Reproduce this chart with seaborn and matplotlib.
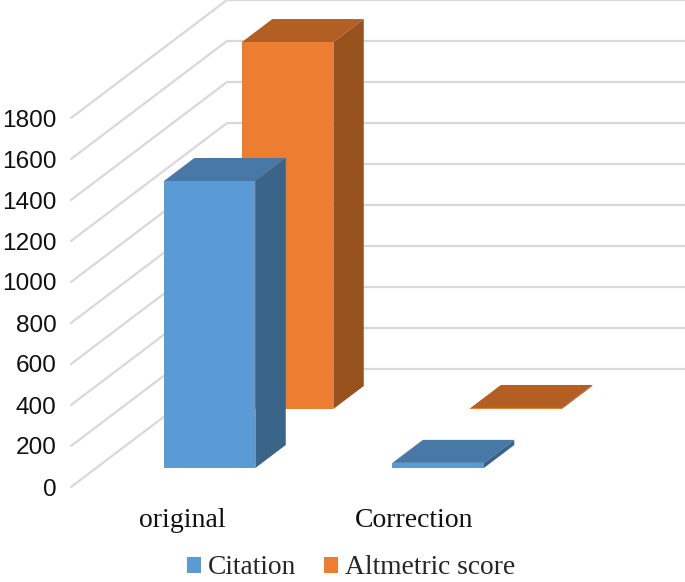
"""Pseudo-3D column chart of citation and altmetric counts."""
import matplotlib.pyplot as plt
import pandas as pd
import seaborn as sns

categories = ["original", "Correction"]
citation = [1400, 25]
altmetric = [1790, 5]
y_ticks = list(range(0, 2000, 200))

BLUE, BLUE_TOP, BLUE_SIDE = "#5B9BD5", "#4878A5", "#3A6488"
ORANGE, ORANGE_TOP, ORANGE_SIDE = "#ED7D31", "#B35E22", "#98521E"
GRID = "#D9D9D9"

# chart geometry in pixels, converted to data units below
PX_PER_CATEGORY = 228.5
PX_PER_UNIT = 0.205
SLOPE = 156 / 118
FLOOR_DEPTH = 118
BAR_DEPTH = 23
DEPTH_CITATION = 19
DEPTH_ALTMETRIC = 78


def depth_shift(depth):
    """Move `depth` pixels into the chart, returned in data units."""
    return depth * SLOPE / PX_PER_CATEGORY, depth / PX_PER_UNIT


df = pd.DataFrame({
    "category": categories * 2,
    "series": ["Citation"] * 2 + ["Altmetric score"] * 2,
    "value": citation + altmetric,
})

sns.set_theme(style="white")
fig = plt.figure(figsize=(6.85, 5.82), dpi=100)
ax = fig.add_axes([71 / 685, (582 - 487) / 582, (685 - 71) / 685, 369 / 582])

sns.barplot(
    data=df, x="category", y="value", hue="series",
    order=categories, hue_order=["Citation", "Altmetric score"],
    palette=[BLUE, ORANGE], saturation=1, dodge=False, width=0.4,
    linewidth=0, ax=ax,
)
ax.set_xlim(-0.4967, 2.19)
ax.set_ylim(0, 1800)

# back wall and side wall gridlines
left, right = ax.get_xlim()
floor_dx, floor_dy = depth_shift(FLOOR_DEPTH)
for v in y_ticks:
    ax.plot([left, left + floor_dx, right], [v, v + floor_dy, v + floor_dy],
            color=GRID, lw=1.6, clip_on=False, zorder=1, solid_joinstyle="miter")


def dress_bars(bars, depth, top_color, side_color, zorder):
    base_dx, base_dy = depth_shift(depth)
    dx, dy = depth_shift(BAR_DEPTH)
    for bar in bars:
        bar.set_x(bar.get_x() + base_dx)
        bar.set_y(base_dy)
        bar.set_clip_on(False)
        bar.set_linewidth(0)
        bar.set_zorder(zorder + 0.2)
        x0, x1 = bar.get_x(), bar.get_x() + bar.get_width()
        y0, y1 = base_dy, base_dy + bar.get_height()
        ax.fill([x0, x1, x1 + dx, x0 + dx], [y1, y1, y1 + dy, y1 + dy],
                color=top_color, lw=0, clip_on=False, zorder=zorder)
        ax.fill([x1, x1 + dx, x1 + dx, x1], [y0, y0 + dy, y1 + dy, y1],
                color=side_color, lw=0, clip_on=False, zorder=zorder + 0.1)


dress_bars(ax.containers[0], DEPTH_CITATION, BLUE_TOP, BLUE_SIDE, 5)
dress_bars(ax.containers[1], DEPTH_ALTMETRIC, ORANGE_TOP, ORANGE_SIDE, 3)

sns.despine(ax=ax, left=True, bottom=True, top=True, right=True)
ax.set_xlabel("")
ax.set_ylabel("")
ax.set_yticks(y_ticks)
ax.set_xticks([-0.011, 1.004])
ax.set_xticklabels(categories, family="Liberation Serif", fontsize=20, color="#111111")
ax.tick_params(axis="y", length=0, pad=10.5, labelsize=17.6, labelcolor="#111111")
ax.tick_params(axis="x", length=0, pad=15)
for label in ax.get_yticklabels():
    label.set_family("Liberation Sans")

sns.move_legend(
    ax, "center left", bbox_to_anchor=(187 / 685, (582 - 568) / 582),
    bbox_transform=fig.transFigure, ncol=2, frameon=False, title=None,
    prop={"family": "Liberation Serif", "size": 19.8},
    handlelength=0.5, handleheight=0.5, handletextpad=0.25, columnspacing=1.02,
    borderpad=0, borderaxespad=0,
)

fig.savefig("out.png", dpi=100)
